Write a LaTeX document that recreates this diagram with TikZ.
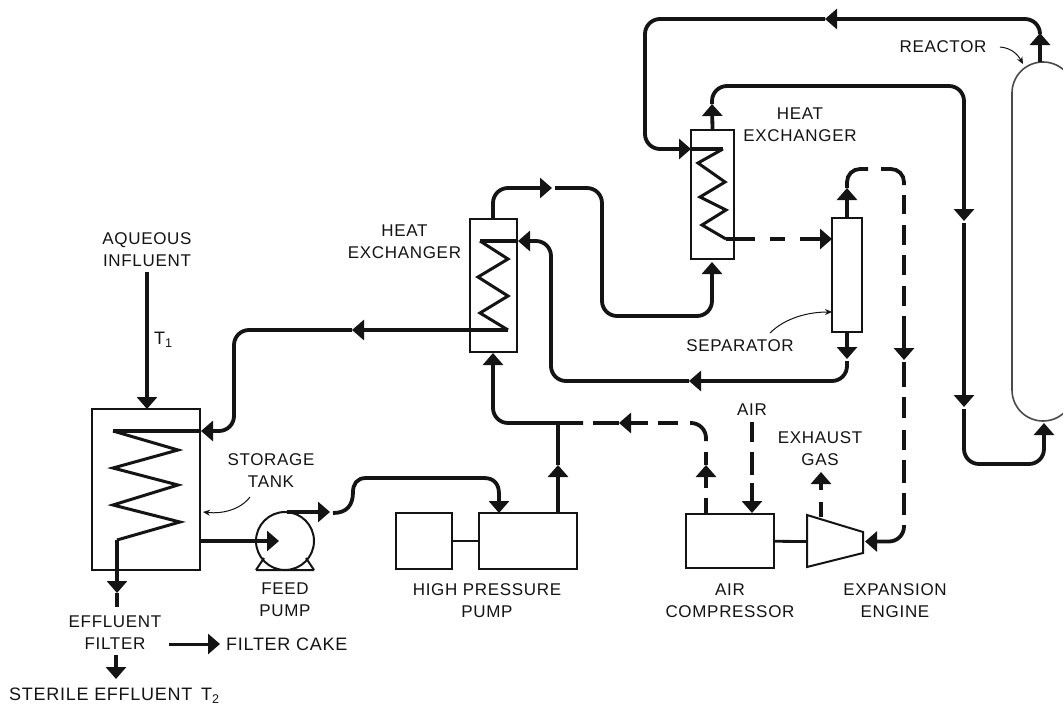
\documentclass[tikz,border=0pt]{standalone}
\usepackage{fontspec}
\setmainfont[LetterSpace=4]{Liberation Sans}
\usetikzlibrary{arrows.meta}
\tikzset{
  x=1pt,y=-1pt,
  pipe/.style={line width=3.8pt,rounded corners=15pt,line cap=butt,draw=ink},
  tip/.style={pipe,-{Triangle[width=20pt,length=12pt]}},
  eq/.style={draw=ink,line width=2pt,fill=none,inner sep=0pt},
  coil/.style={draw=ink,line width=3pt,line join=miter,miter limit=10},
  link/.style={draw=ink,line width=2.8pt},
  note/.style={draw=ink,line width=1pt,-{Stealth[length=7pt,width=6pt]}},
  lab/.style={text=ink,align=center,inner sep=0pt,font=\fontsize{17}{22}\selectfont},
  labbig/.style={lab,font=\fontsize{18}{22}\selectfont},
}
\definecolor{ink}{HTML}{141414}
\definecolor{vessel}{HTML}{4A4A4A}
\begin{document}
\begin{tikzpicture}
\clip (0,0) rectangle (1063,707);
\fill[white] (0,0) rectangle (1063,707);
% equipment
\node[eq,minimum width=108pt,minimum height=161pt] (tank) at (146,489.5) {};
\node[eq,minimum width=47pt,minimum height=133pt] (hxa) at (493.5,285.5) {};
\node[eq,minimum width=43pt,minimum height=129pt] (hxb) at (712.5,194.5) {};
\node[eq,minimum width=30pt,minimum height=114pt] (sep) at (847,275) {};
\node[draw=vessel,line width=1.6pt,rounded corners=31pt,minimum width=62pt,minimum height=359pt,inner sep=0pt] (reactor) at (1043,241.5) {};
\node[eq,minimum width=98pt,minimum height=56pt] (hpp) at (528,541) {};
\node[eq,minimum width=56pt,minimum height=56pt] (motor) at (424,541) {};
\node[eq,minimum width=88pt,minimum height=54pt] (comp) at (730,541) {};
\node[circle,draw=ink,line width=2pt,minimum size=58pt,inner sep=0pt] (pump) at (285,541) {};
\draw[eq] (807,515) -- (863,532) -- (863,553) -- (807,567) -- cycle;
\coordinate (engL) at (807,541.5);
\coordinate (engR) at (865,541.5);
\draw[eq] (256,570) -- (314,570) (256,570) -- (264,558) (314,570) -- (306,558);
\draw[link] (motor) -- (hpp);
\draw[link] (comp) -- (engL);
% coils
\draw[coil] (113,431) -- (178,450) -- (113,468) -- (178,485) -- (113,505) -- (180,522) -- (117,540);
\draw[coil] (480,241) -- (508,259) -- (478,277) -- (508,296) -- (480,313) -- (508,330);
\draw[coil] (723,149) -- (698,163) -- (725,182) -- (700,197) -- (726,210) -- (702,225) -- (726,239);
% tank in and out
\coordinate (inf) at (147,272);
\draw[tip] (inf) -- (147,409);
\coordinate (cin) at (113,431);
\coordinate (tanktip) at (201,431);
\draw[pipe] (cin) -- (tanktip);
\coordinate (hxaout) at (508,330);
\coordinate (hxamid) at (352,330);
\draw[tip] (hxaout) -- (hxamid);
\draw[tip] (hxamid) -| (234,380) |- (tanktip);
\coordinate (coilend) at (117,540);
\coordinate (tankdn) at (117,593);
\draw[tip] (coilend) -- (tankdn);
\draw[pipe] (tankdn) -- (117,607);
% tank to pump
\draw[tip] (tank.east |- pump) -- (279,541);
% pump to high pressure pump
\coordinate (pdt) at (330,512);
\draw[tip] (287,512) -- (pdt);
\coordinate (hppin) at (499,513);
\draw[pipe,sharp corners] (333,513) .. controls (347,513) and (353,505) .. (353,492) .. controls (353,484) and (357,478) .. (366,478) -- (484,478) .. controls (494,478) and (499,484) .. (499,494);
\draw[tip] (499,492) -- (hppin);
% high pressure line
\coordinate (jct) at (558,423);
\coordinate (jarrow) at (558,465);
\draw[tip] (hpp.north -| jct) -- (jarrow);
\draw[pipe] (jarrow) -- (jct);
\coordinate (hxatip) at (493,353);
\draw[pipe] (583,423) -| (493,390);
\draw[tip] (493,395) -- (hxatip);
% compressor discharge (dashed)
\coordinate (cmpa) at (706,465);
\draw[pipe] (comp.north -| cmpa) -- (706,498);
\draw[tip] (706,488) -- (cmpa);
\draw[pipe] (cmpa) -- (706,452);
\coordinate (cmpb) at (619,423);
\draw[pipe] (706,441) |- (690,423);
\draw[pipe] (678,423) -- (658,423);
\draw[tip] (648,423) -- (cmpb);
\draw[pipe] (cmpb) -- (593,423);
% air
\node[lab] (air) at (752,410) {AIR};
\draw[pipe] (752,422) -- (752,442) (752,452) -- (752,475);
\draw[tip] (752,483) -- (comp.north -| 752,0);
% exhaust
\coordinate (exh) at (821,517);
\draw[pipe] (exh) -- (821,502);
\draw[tip] (821,490) -- (821,472);
% hx a top to hx b
\coordinate (hxatop) at (hxa.north -| 493,0);
\coordinate (mid1) at (552,188);
\draw[tip] (hxatop) |- (mid1);
\coordinate (hxbtip) at (712,262);
\draw[pipe] (555,188) -| (602,250) |- (660,316);
\draw[pipe] (650,316) -| (712,280);
\draw[tip] (712,285) -- (hxbtip);
% hx b up to reactor
\coordinate (hxbu) at (712,104);
\draw[tip] (hxb.north) -- (hxbu);
\coordinate (down1) at (964,221);
\draw[tip] (hxbu) |- (800,86) -| (down1);
\coordinate (down2) at (964,407);
\draw[tip] (964,223) -- (down2);
\coordinate (rbt) at (1044,423);
\draw[pipe] (964,409) |- (1000,464);
\draw[tip] (995,464) -| (rbt);
% reactor top out
\coordinate (rt) at (1040,62);
\coordinate (rtip) at (1040,33);
\draw[tip] (rt) -- (rtip);
\coordinate (left1) at (825,19);
\draw[tip] (rtip) |- (left1);
\coordinate (hxbin) at (691,149);
\draw[tip] (left1) -| (645,100) |- (hxbin);
\draw[pipe] (hxbin) -- (723,149);
% hx b to separator (dashed)
\coordinate (septip) at (832,239);
\draw[pipe] (726,239) -- (755,239) (770,239) -- (785,239);
\draw[tip] (800,239) -- (septip);
% separator top and dashed gas line
\coordinate (sepu) at (847,188);
\draw[tip] (sep.north) -- (sepu);
\draw[pipe,rounded corners=13pt] (sepu) |- (868,169);
\draw[pipe,rounded corners=13pt] (881,169) -| (904,185);
\draw[pipe] (904,195) -- (904,214) (904,225) -- (904,245) (904,255) -- (904,275) (904,286) -- (904,306);
\coordinate (sda) at (904,360);
\draw[tip] (904,316) -- (sda);
\draw[pipe] (904,362) -- (904,387) (904,397) -- (904,418) (904,430) -- (904,450) (904,460) -- (904,483) (904,493) -- (904,515);
\draw[tip] (904,525) |- (engR);
% separator bottom
\coordinate (sepd) at (847,359);
\draw[tip] (sep.south) -- (sepd);
\coordinate (left2) at (689,381);
\draw[tip] (847,361) |- (left2);
\coordinate (hxain) at (518,241);
\draw[tip] (left2) -| (551,300) |- (hxain);
\draw[pipe] (hxain) -- (480,241);
% filter
\coordinate (fa) at (169,644);
\coordinate (fb) at (220,644);
\draw[tip,line width=3pt] (fa) -- (fb);
\coordinate (ga) at (116,655);
\coordinate (gb) at (116,679);
\draw[tip] (ga) -- (gb);
% pointers
\coordinate (p1a) at (1000,47);\coordinate (p1b) at (1023,64);
\draw[note] (p1a) .. controls (1012,48) and (1018,55) .. (p1b);
\coordinate (p2a) at (770,333);\coordinate (p2b) at (832,312);
\draw[note] (p2a) .. controls (785,318) and (808,312) .. (p2b);
\coordinate (p3a) at (250,497);\coordinate (p3b) at (203,512);
\draw[note] (p3a) .. controls (240,510) and (222,514) .. (p3b);
% labels
\node[lab] (l1) at (147,249.5) {AQUEOUS\\INFLUENT};
\node[labbig,anchor=west] (l2) at (154,340) {T\textsubscript{1}};
\node[lab] (l3) at (404.5,242) {HEAT\\EXCHANGER};
\node[lab] (l4) at (800,125) {HEAT\\EXCHANGER};
\node[lab] (l5) at (943,47) {REACTOR};
\node[lab] (l6) at (740,346) {SEPARATOR};
\node[lab] (l7) at (271,471) {STORAGE\\TANK};
\node[lab] (l8) at (285,600) {FEED\\PUMP};
\node[lab] (l9) at (115,633) {EFFLUENT\\FILTER};
\node[labbig,anchor=west] (l10) at (226,644) {FILTER CAKE};
\node[labbig,anchor=west] (l11) at (9,696) {STERILE EFFLUENT\, T\textsubscript{2}};
\node[lab] (l12) at (487,601) {HIGH PRESSURE\\PUMP};
\node[lab] (l13) at (730,601) {AIR\\COMPRESSOR};
\node[lab] (l14) at (895,601) {EXPANSION\\ENGINE};
\node[lab] (l15) at (820,448.5) {EXHAUST\\GAS};
\end{tikzpicture}
\end{document}
